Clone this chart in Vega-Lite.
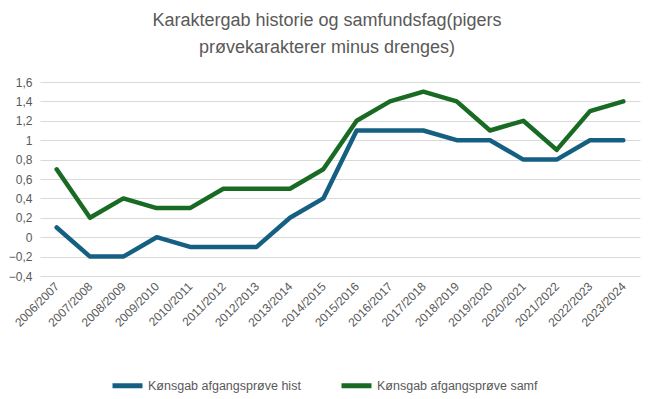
{
  "$schema": "https://vega.github.io/schema/vega-lite/v6.json",
  "width": 600,
  "height": 194,
  "autosize": {"type": "none"},
  "padding": {"left": 40, "top": 82, "right": 8, "bottom": 123},
  "background": "white",
  "config": {
    "view": {"stroke": null},
    "font": "Liberation Sans",
    "axis": {"labelFont": "Liberation Sans", "labelColor": "#595959", "labelFontSize": 12},
    "legend": {"labelFont": "Liberation Sans", "labelColor": "#595959", "labelFontSize": 12.5, "labelLimit": 300}
  },
  "title": {
    "text": ["Karaktergab historie og samfundsfag(pigers", "prøvekarakterer minus drenges)"],
    "font": "Liberation Sans",
    "fontSize": 18,
    "fontWeight": "normal",
    "color": "#595959",
    "anchor": "middle",
    "frame": "group",
    "dx": -13,
    "offset": 19,
    "lineHeight": 27
  },
  "data": {
    "values": [
      {"aar": "2006/2007", "serie": "Kønsgab afgangsprøve hist", "v": 0.1},
      {"aar": "2007/2008", "serie": "Kønsgab afgangsprøve hist", "v": -0.2},
      {"aar": "2008/2009", "serie": "Kønsgab afgangsprøve hist", "v": -0.2},
      {"aar": "2009/2010", "serie": "Kønsgab afgangsprøve hist", "v": 0},
      {"aar": "2010/2011", "serie": "Kønsgab afgangsprøve hist", "v": -0.1},
      {"aar": "2011/2012", "serie": "Kønsgab afgangsprøve hist", "v": -0.1},
      {"aar": "2012/2013", "serie": "Kønsgab afgangsprøve hist", "v": -0.1},
      {"aar": "2013/2014", "serie": "Kønsgab afgangsprøve hist", "v": 0.2},
      {"aar": "2014/2015", "serie": "Kønsgab afgangsprøve hist", "v": 0.4},
      {"aar": "2015/2016", "serie": "Kønsgab afgangsprøve hist", "v": 1.1},
      {"aar": "2016/2017", "serie": "Kønsgab afgangsprøve hist", "v": 1.1},
      {"aar": "2017/2018", "serie": "Kønsgab afgangsprøve hist", "v": 1.1},
      {"aar": "2018/2019", "serie": "Kønsgab afgangsprøve hist", "v": 1.0},
      {"aar": "2019/2020", "serie": "Kønsgab afgangsprøve hist", "v": 1.0},
      {"aar": "2020/2021", "serie": "Kønsgab afgangsprøve hist", "v": 0.8},
      {"aar": "2021/2022", "serie": "Kønsgab afgangsprøve hist", "v": 0.8},
      {"aar": "2022/2023", "serie": "Kønsgab afgangsprøve hist", "v": 1.0},
      {"aar": "2023/2024", "serie": "Kønsgab afgangsprøve hist", "v": 1.0},
      {"aar": "2006/2007", "serie": "Kønsgab afgangsprøve samf", "v": 0.7},
      {"aar": "2007/2008", "serie": "Kønsgab afgangsprøve samf", "v": 0.2},
      {"aar": "2008/2009", "serie": "Kønsgab afgangsprøve samf", "v": 0.4},
      {"aar": "2009/2010", "serie": "Kønsgab afgangsprøve samf", "v": 0.3},
      {"aar": "2010/2011", "serie": "Kønsgab afgangsprøve samf", "v": 0.3},
      {"aar": "2011/2012", "serie": "Kønsgab afgangsprøve samf", "v": 0.5},
      {"aar": "2012/2013", "serie": "Kønsgab afgangsprøve samf", "v": 0.5},
      {"aar": "2013/2014", "serie": "Kønsgab afgangsprøve samf", "v": 0.5},
      {"aar": "2014/2015", "serie": "Kønsgab afgangsprøve samf", "v": 0.7},
      {"aar": "2015/2016", "serie": "Kønsgab afgangsprøve samf", "v": 1.2},
      {"aar": "2016/2017", "serie": "Kønsgab afgangsprøve samf", "v": 1.4},
      {"aar": "2017/2018", "serie": "Kønsgab afgangsprøve samf", "v": 1.5},
      {"aar": "2018/2019", "serie": "Kønsgab afgangsprøve samf", "v": 1.4},
      {"aar": "2019/2020", "serie": "Kønsgab afgangsprøve samf", "v": 1.1},
      {"aar": "2020/2021", "serie": "Kønsgab afgangsprøve samf", "v": 1.2},
      {"aar": "2021/2022", "serie": "Kønsgab afgangsprøve samf", "v": 0.9},
      {"aar": "2022/2023", "serie": "Kønsgab afgangsprøve samf", "v": 1.3},
      {"aar": "2023/2024", "serie": "Kønsgab afgangsprøve samf", "v": 1.4}
    ]
  },
  "mark": {"type": "line", "strokeWidth": 4.5, "strokeJoin": "round", "strokeCap": "round"},
  "encoding": {
    "x": {
      "field": "aar",
      "type": "ordinal",
      "scale": {"type": "point", "padding": 0.5},
      "axis": {
        "title": null,
        "labelAngle": -45,
        "labelAlign": "right",
        "labelBaseline": "middle",
        "ticks": false,
        "domain": false,
        "grid": false,
        "labelPadding": 8
      }
    },
    "y": {
      "field": "v",
      "type": "quantitative",
      "scale": {"domain": [-0.4, 1.6], "nice": false},
      "axis": {
        "title": null,
        "values": [-0.4, -0.2, 0, 0.2, 0.4, 0.6, 0.8, 1, 1.2, 1.4, 1.6],
        "labelExpr": "replace(format(datum.value, '.1~f'), '.', ',')",
        "ticks": false,
        "domain": false,
        "grid": true,
        "gridColor": "#d9d9d9",
        "gridWidth": 1,
        "labelPadding": 8
      }
    },
    "color": {
      "field": "serie",
      "type": "nominal",
      "scale": {"domain": ["Kønsgab afgangsprøve hist", "Kønsgab afgangsprøve samf"], "range": ["#156082", "#196B24"]},
      "legend": {
        "title": null,
        "orient": "none",
        "legendX": 70,
        "legendY": 286,
        "direction": "horizontal",
        "columns": 2,
        "columnPadding": 30,
        "symbolType": "stroke",
        "symbolSize": 900,
        "symbolStrokeWidth": 5,
        "labelOffset": 3,
        "labelLimit": 300
      }
    }
  }
}
